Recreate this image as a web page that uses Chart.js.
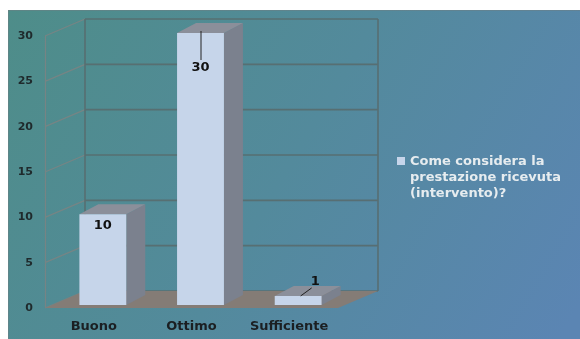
<!DOCTYPE html>
<html>
<head>
<meta charset="utf-8">
<script src="https://cdn.jsdelivr.net/npm/chart.js@4.4.1/dist/chart.umd.min.js"></script>
<style>
  html, body { margin: 0; padding: 0; background: #fff; }
  #wrap { width: 580px; height: 339px; }
</style>
</head>
<body>
<div id="wrap"><canvas id="myChart" width="580" height="339"></canvas></div>
<script>
let categories = ['Buono', 'Ottimo', 'Sufficiente'];
let values = [10, 30, 1];
let yTicks = [0, 5, 10, 15, 20, 25, 30];
let seriesName = 'Come considera la prestazione ricevuta (intervento)?';
let legendLines = ['Come considera la', 'prestazione ricevuta', '(intervento)?'];

const FONT = '"DejaVu Sans", sans-serif';
const BAR_COLOR = '#c6d5ea';

// fake 3d: floor front edge, back wall, bar depth (offsets from the bar plane)
const FRONT = { dx: -9, dy: 3 };
const BACK = { dx: 31, dy: -14 };
const DEPTH = { dx: 19, dy: -10 };

// where each value label sits relative to the top of its bar, plus its leader line
const labelSpots = [
  { tx: 0, ty: 11, line: null },
  { tx: 0, ty: 35, line: [0, -2, 0, 27] },
  { tx: 17, ty: -14, line: [2, 0, 13, -8] }
];

function poly(ctx, pts, fill) {
  ctx.beginPath();
  ctx.moveTo(pts[0][0], pts[0][1]);
  for (let i = 1; i < pts.length; i++) ctx.lineTo(pts[i][0], pts[i][1]);
  ctx.closePath();
  ctx.fillStyle = fill;
  ctx.fill();
}

const scene = {
  id: 'scene',
  beforeDraw(chart) {
    let ctx = chart.ctx;
    ctx.save();
    ctx.fillStyle = '#fff';
    ctx.fillRect(0, 0, chart.width, chart.height);
    let g = ctx.createLinearGradient(8, 10, 560, 339);
    g.addColorStop(0, '#4e8d89');
    g.addColorStop(0.5, '#538a9c');
    g.addColorStop(1, '#5b85b3');
    ctx.fillStyle = g;
    ctx.fillRect(8, 10, chart.width - 8, chart.height - 10);
    ctx.strokeStyle = 'rgba(110,125,130,0.5)';
    ctx.lineWidth = 1;
    ctx.beginPath();
    ctx.moveTo(8, 10.5);
    ctx.lineTo(chart.width, 10.5);
    ctx.moveTo(8.5, 10);
    ctx.lineTo(8.5, chart.height);
    ctx.stroke();
    ctx.restore();
  },
  beforeDatasetsDraw(chart) {
    let ctx = chart.ctx;
    let area = chart.chartArea;
    let ys = chart.scales.y;
    let top = ys.getPixelForValue(ys.max);
    let zero = ys.getPixelForValue(0);
    ctx.save();

    // left wall diagonals
    ctx.strokeStyle = 'rgba(120,132,132,0.95)';
    ctx.lineWidth = 1.2;
    ctx.beginPath();
    yTicks.forEach(v => {
      let y = ys.getPixelForValue(v);
      ctx.moveTo(area.left + FRONT.dx, y + FRONT.dy);
      ctx.lineTo(area.left + BACK.dx, y + BACK.dy);
    });
    ctx.moveTo(area.left + FRONT.dx + 0.5, top + FRONT.dy);
    ctx.lineTo(area.left + FRONT.dx + 0.5, zero + FRONT.dy);
    ctx.stroke();

    // back wall grid
    ctx.strokeStyle = 'rgba(88,108,110,0.9)';
    ctx.lineWidth = 1.6;
    ctx.beginPath();
    yTicks.forEach(v => {
      let y = ys.getPixelForValue(v) + BACK.dy;
      ctx.moveTo(area.left + BACK.dx, y);
      ctx.lineTo(area.right + BACK.dx, y);
    });
    ctx.moveTo(area.left + BACK.dx, top + BACK.dy);
    ctx.lineTo(area.left + BACK.dx, zero + BACK.dy);
    ctx.moveTo(area.right + BACK.dx, top + BACK.dy);
    ctx.lineTo(area.right + BACK.dx, zero + BACK.dy);
    ctx.stroke();

    // floor
    poly(ctx, [
      [area.left + FRONT.dx, zero + FRONT.dy],
      [area.right + FRONT.dx, zero + FRONT.dy],
      [area.right + BACK.dx, zero + BACK.dy],
      [area.left + BACK.dx, zero + BACK.dy]
    ], '#847c76');

    // bar tops and sides
    let meta = chart.getDatasetMeta(0);
    meta.data.forEach(bar => {
      let x0 = bar.x - bar.width / 2;
      let x1 = bar.x + bar.width / 2;
      poly(ctx, [[x1, bar.y], [x1 + DEPTH.dx, bar.y + DEPTH.dy],
        [x1 + DEPTH.dx, bar.base + DEPTH.dy], [x1, bar.base]], '#7b818e');
      poly(ctx, [[x0, bar.y], [x1, bar.y],
        [x1 + DEPTH.dx, bar.y + DEPTH.dy], [x0 + DEPTH.dx, bar.y + DEPTH.dy]], '#8b8f9a');
    });
    ctx.restore();
  },
  afterDatasetsDraw(chart) {
    let ctx = chart.ctx;
    let meta = chart.getDatasetMeta(0);
    ctx.save();
    ctx.font = 'bold 13px ' + FONT;
    ctx.textAlign = 'center';
    ctx.textBaseline = 'middle';
    ctx.fillStyle = '#111';
    ctx.strokeStyle = '#222';
    ctx.lineWidth = 1;
    meta.data.forEach((bar, i) => {
      let s = labelSpots[i];
      if (s.line) {
        ctx.beginPath();
        ctx.moveTo(bar.x + s.line[0] + 0.5, bar.y + s.line[1]);
        ctx.lineTo(bar.x + s.line[2] + 0.5, bar.y + s.line[3]);
        ctx.stroke();
      }
      ctx.fillText(String(values[i]), bar.x + s.tx, bar.y + s.ty);
    });
    ctx.restore();
  },
  afterDraw(chart) {
    let ctx = chart.ctx;
    ctx.save();
    ctx.fillStyle = BAR_COLOR;
    ctx.fillRect(397, 157, 8, 8);
    ctx.font = 'bold 13px ' + FONT;
    ctx.textAlign = 'left';
    ctx.textBaseline = 'middle';
    ctx.fillStyle = '#e6ecef';
    legendLines.forEach((line, i) => {
      ctx.fillText(line, 410, 162 + i * 15.7);
    });
    ctx.restore();
  }
};

new Chart('myChart', {
  type: 'bar',
  data: {
    labels: categories,
    datasets: [{
      label: seriesName,
      data: values,
      backgroundColor: BAR_COLOR,
      borderWidth: 0,
      barPercentage: 0.48,
      categoryPercentage: 1
    }]
  },
  options: {
    responsive: false,
    animation: false,
    devicePixelRatio: 1,
    layout: { padding: { top: 33, right: 233, bottom: 0, left: 0 } },
    plugins: {
      legend: { display: false },
      tooltip: { enabled: false }
    },
    scales: {
      x: {
        grid: { display: false, drawTicks: false },
        border: { display: false },
        ticks: {
          padding: 14,
          labelOffset: -9,
          color: '#1b1f22',
          font: { family: FONT, size: 13, weight: 'bold' }
        },
        afterFit: scale => { scale.height = 34; }
      },
      y: {
        min: 0,
        max: yTicks[yTicks.length - 1],
        grid: { display: false, drawTicks: false },
        border: { display: false },
        ticks: {
          stepSize: 5,
          padding: 21,
          labelOffset: 3,
          color: '#1f2a2c',
          font: { family: FONT, size: 11, weight: 'bold' }
        },
        afterFit: scale => { scale.width = 54; }
      }
    }
  },
  plugins: [scene]
});
</script>
</body>
</html>
